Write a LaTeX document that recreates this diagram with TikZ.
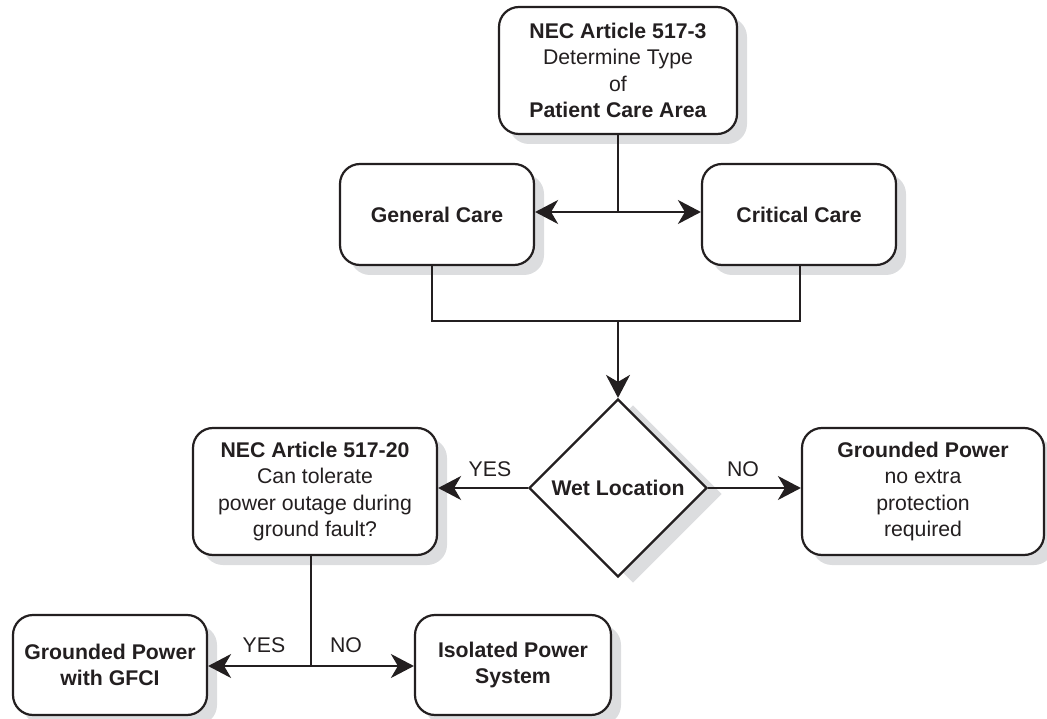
\documentclass[tikz,border=0pt]{standalone}
\usepackage{fontspec}
\setmainfont{Liberation Sans}
\usetikzlibrary{shapes.geometric,shadows,arrows.meta}
\definecolor{ink}{HTML}{231F20}
\definecolor{shade}{HTML}{DCDDDF}
\begin{document}
\begin{tikzpicture}[x=1pt,y=-1pt,
  every node/.style={font=\fontsize{21.25}{26.5}\selectfont, text=ink},
  box/.style={draw=ink, line width=2.2pt, rounded corners=20pt, fill=white, align=center, inner sep=0pt,
    drop shadow={shadow xshift=10pt, shadow yshift=-10pt, fill=shade, opacity=1, draw=none}},
  dec/.style={draw=ink, line width=2.2pt, diamond, fill=white, inner sep=0pt, aspect=1,
    minimum width=178pt, minimum height=178pt, align=center,
    drop shadow={shadow xshift=15pt, shadow yshift=-6pt, fill=shade, opacity=1, draw=none}},
  conn/.style={draw=ink, line width=2.2pt},
  arr/.style={conn, -{Stealth[length=23pt, width=24pt, inset=7pt]}},
  lbl/.style={inner sep=0pt}
]
\useasboundingbox (0,0) rectangle (1047,719);

\node[box, minimum width=238pt, minimum height=127pt] (top) at (618,70.5)
  {\textbf{NEC Article 517-3}\\Determine Type\\of\\\textbf{Patient Care Area}};
\node[box, minimum width=194pt, minimum height=101pt] (gen) at (437,214.5) {\textbf{General Care}};
\node[box, minimum width=194pt, minimum height=101pt] (crit) at (799,214.5) {\textbf{Critical Care}};
\node[dec] (wet) at (618,488) {\textbf{Wet Location}};
\node[box, minimum width=244pt, minimum height=127pt] (nec) at (315,491.5)
  {\textbf{NEC Article 517-20}\\Can tolerate\\power outage during\\ground fault?};
\node[box, minimum width=242pt, minimum height=127pt] (gp) at (923,491.5)
  {\textbf{Grounded Power}\\no extra\\protection\\required};
\node[box, minimum width=194pt, minimum height=100pt] (gfci) at (110,665)
  {\textbf{Grounded Power}\\\textbf{with GFCI}};
\node[box, minimum width=196pt, minimum height=100pt] (iso) at (513,665)
  {\textbf{Isolated Power}\\\textbf{System}};

\coordinate (j1) at (618,212);
\coordinate (j2) at (618,321);
\coordinate (j3) at (311,666);

\draw[conn] (top.south) -- (j1);
\draw[arr] (j1) -- (j1 -| gen.east);
\draw[arr] (j1) -- (j1 -| crit.west);
\draw[conn] ([xshift=-5pt]gen.south) |- (j2) -| ([xshift=1pt]crit.south);
\draw[arr] (j2) -- (wet.north);
\draw[arr] (wet.west) -- (wet.west -| nec.east);
\draw[arr] (wet.east) -- (wet.east -| gp.west);
\draw[conn] ([xshift=-4pt]nec.south) -- (j3);
\draw[arr] (j3) -- (j3 -| gfci.east);
\draw[arr] (j3) -- (j3 -| iso.west);

\node[lbl] (yes1) at (490,469) {YES};
\node[lbl] (no1) at (743,469) {NO};
\node[lbl] (yes2) at (264,645) {YES};
\node[lbl] (no2) at (346,645) {NO};
\end{tikzpicture}
\end{document}
